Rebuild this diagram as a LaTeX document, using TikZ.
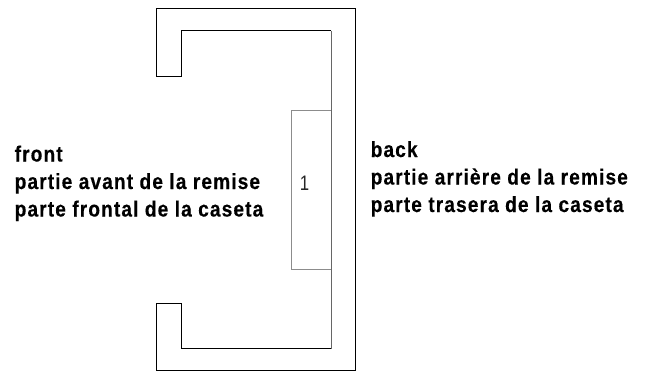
\documentclass[tikz,border=0pt]{standalone}
\usepackage{fontspec}
\setmainfont{Liberation Sans}
\newfontfamily\lblfont[FakeStretch=0.87,LetterSpace=5,BoldFont={Liberation Sans Bold},BoldFeatures={FakeBold=0.3}]{Liberation Sans}
\newfontfamily\numfont[FakeStretch=0.8]{Liberation Sans}
\tikzset{
  wall/.style={draw=black,line width=1pt,line join=miter},
  backwall/.style={draw=black!60,line width=1pt},
  zonebox/.style={draw=black!45,line width=0.9pt},
  lbl/.style={inner sep=0pt,anchor=base west,align=left,font=\lblfont\bfseries\fontsize{22}{27.5}\selectfont},
  numlbl/.style={inner sep=0pt,font=\numfont\fontsize{21}{24}\selectfont,text=black!85}
}
\begin{document}
\begin{tikzpicture}[x=1pt,y=-1pt]
\useasboundingbox (0,0) rectangle (645,373);
\node[zonebox,minimum width=39.7pt,minimum height=158.4pt,anchor=north west,inner sep=0pt] (zone) at (291.3,110.3) {};
\path[backwall] (331,348.7) -- (331,30.5);
\path[wall] (331,30.5) -- (181.5,30.5) -- (181.5,76) -- (156.7,76) -- (156.7,8) -- (355.3,8) -- (355.3,370.7) -- (156.7,370.7) -- (156.7,303.3) -- (181.5,303.3) -- (181.5,348.7) -- (331,348.7);
\node[numlbl] (num) at (304.5,183.5) {1};
\node[lbl] (front) at (14.5,216.5) {front\\partie avant de la remise\\parte frontal de la caseta};
\node[lbl] (back) at (370.5,212) {back\\partie arrière de la remise\\parte trasera de la caseta};
\end{tikzpicture}
\end{document}
